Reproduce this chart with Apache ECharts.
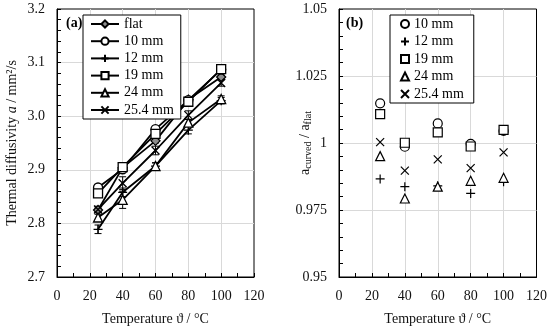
<!DOCTYPE html>
<html><head><meta charset="utf-8">
<script src="https://cdn.jsdelivr.net/npm/echarts@6/dist/echarts.min.js"></script>
<style>html,body{margin:0;padding:0;background:#fff}#c{width:550px;height:331px}</style>
</head><body><div id="c"></div>
<script>
// ---- data ----
const temps = [25, 40, 60, 80, 100];
const xTicks = [0, 20, 40, 60, 80, 100, 120];
const leftNames = ['flat', '10 mm', '12 mm', '19 mm', '24 mm', '25.4 mm'];
const aFlat = [2.825, 2.904, 2.954, 3.031, 3.073];
const a10 = [2.867, 2.901, 2.976, 3.030, 3.087];
const a12 = [2.789, 2.858, 2.907, 2.974, 3.029];
const a19 = [2.856, 2.905, 2.967, 3.027, 3.088];
const a24 = [2.811, 2.844, 2.907, 2.988, 3.032];
const a254 = [2.826, 2.875, 2.936, 3.002, 3.062];
const eFlat = [0.004, 0.004, 0.004, 0.004, 0.004];
const e10 = [0.005, 0.004, 0.005, 0.004, 0.004];
const e12 = [0.008, 0.008, 0.006, 0.007, 0.006];
const e19 = [0.006, 0.004, 0.005, 0.004, 0.004];
const e24 = [0.006, 0.016, 0.006, 0.006, 0.006];
const e254 = [0.006, 0.012, 0.008, 0.008, 0.006];
const rightNames = ['10 mm', '12 mm', '19 mm', '24 mm', '25.4 mm'];
const r10 = [1.0148, 0.9986, 1.0073, 0.9997, 1.0045];
const r12 = [0.9866, 0.9837, 0.9840, 0.9812, 0.9855];
const r19 = [1.0108, 1.0001, 1.0040, 0.9987, 1.0049];
const r24 = [0.9951, 0.9793, 0.9837, 0.9859, 0.9870];
const r254 = [1.0003, 0.9897, 0.9939, 0.9906, 0.9965];

// ---- styling ----
const FF = '"Liberation Serif", "DejaVu Serif", serif';
const PLUS = 'path://M0,5L10,5M5,0L5,10';
const CROSS = 'path://M0,0L10,10M10,0L0,10';
const leftSym = [
  {symbol: 'diamond', size: 9, fill: '#8c8c8c'},
  {symbol: 'circle', size: 9, fill: '#fff'},
  {symbol: PLUS, size: 9, fill: 'none'},
  {symbol: 'rect', size: 9, fill: '#fff'},
  {symbol: 'triangle', size: 9, fill: '#fff'},
  {symbol: CROSS, size: 8, fill: 'none'}
];
const rightSym = leftSym.slice(1);
const leftVals = [aFlat, a10, a12, a19, a24, a254];
const leftErr = [eFlat, e10, e12, e19, e24, e254];
const rightVals = [r10, r12, r19, r24, r254];

function xAxis(gi) {
  return {
    type: 'value', gridIndex: gi, min: 0, max: 120, interval: 20,
    name: 'Temperature ϑ / °C', nameLocation: 'middle', nameGap: 35, nameMoveOverlap: false,
    nameTextStyle: {fontFamily: FF, fontSize: 14, color: '#111'},
    axisLine: {show: true, onZero: false, lineStyle: {color: '#000', width: 1}},
    axisTick: {show: true, inside: true, length: 4, lineStyle: {color: '#000'}},
    minorTick: {show: true, splitNumber: 2, length: 4, lineStyle: {color: '#000'}},
    axisLabel: {fontFamily: FF, fontSize: 14, color: '#111', margin: 12,
      formatter: v => xTicks.includes(v) ? String(v) : ''},
    splitLine: {show: true, showMinLine: false, showMaxLine: false, lineStyle: {color: '#d9d9d9', width: 1}}
  };
}

const series = [];
leftNames.forEach((n, i) => {
  series.push({
    type: 'custom', xAxisIndex: 0, yAxisIndex: 0, z: 3, silent: true,
    data: temps.map((t, k) => [t, leftVals[i][k], leftErr[i][k]]),
    renderItem: (params, api) => {
      const x = api.value(0), y = api.value(1), e = api.value(2);
      const p1 = api.coord([x, y + e]), p2 = api.coord([x, y - e]);
      const st = {stroke: '#000', lineWidth: 1};
      return {type: 'group', children: [
        {type: 'line', shape: {x1: p1[0], y1: p1[1], x2: p2[0], y2: p2[1]}, style: st},
        {type: 'line', shape: {x1: p1[0] - 3.5, y1: p1[1], x2: p1[0] + 3.5, y2: p1[1]}, style: st},
        {type: 'line', shape: {x1: p2[0] - 3.5, y1: p2[1], x2: p2[0] + 3.5, y2: p2[1]}, style: st}
      ]};
    }
  });
});
leftNames.forEach((n, i) => {
  const s = leftSym[i];
  series.push({
    name: n, type: 'line', xAxisIndex: 0, yAxisIndex: 0, z: 4,
    data: temps.map((t, k) => [t, leftVals[i][k]]),
    symbol: s.symbol, symbolSize: s.size, showAllSymbol: true,
    lineStyle: {color: '#000', width: 1.8},
    itemStyle: {color: s.fill === 'none' ? 'rgba(0,0,0,0)' : s.fill, borderColor: '#000', borderWidth: 1.3},
    emphasis: {disabled: true}, animation: false
  });
});
rightNames.forEach((n, i) => {
  const s = rightSym[i];
  series.push({
    name: 'b:' + n, type: 'scatter', xAxisIndex: 1, yAxisIndex: 1, z: 4,
    data: temps.map((t, k) => [t, rightVals[i][k]]),
    symbol: s.symbol, symbolSize: s.size,
    itemStyle: {color: s.fill === 'none' ? 'rgba(0,0,0,0)' : '#fff', borderColor: '#000', borderWidth: 1.2, opacity: 1},
    emphasis: {disabled: true}, animation: false
  });
});

const legendText = {fontFamily: FF, fontSize: 14, color: '#000', lineHeight: 14};
const option = {
  animation: false,
  backgroundColor: '#fff',
  grid: [
    {left: 57, top: 9, width: 197, height: 268, show: true, borderColor: '#000', borderWidth: 1, backgroundColor: 'transparent'},
    {left: 339, top: 9, width: 198, height: 268, show: true, borderColor: '#000', borderWidth: 1, backgroundColor: 'transparent'}
  ],
  xAxis: [xAxis(0), xAxis(1)],
  yAxis: [
    {type: 'value', gridIndex: 0, min: 2.7, max: 3.2, interval: 0.1,
      name: 'Thermal diffusivity {i|a} / mm²/s', nameLocation: 'middle', nameGap: 38,
      nameTextStyle: {fontFamily: FF, fontSize: 14, color: '#111', rich: {i: {fontFamily: FF, fontSize: 14, fontStyle: 'italic', color: '#111'}}},
      axisLine: {show: true, onZero: false, lineStyle: {color: '#000', width: 1}},
      axisTick: {show: true, inside: true, length: 4, lineStyle: {color: '#000'}},
      minorTick: {show: true, splitNumber: 5, length: 4, lineStyle: {color: '#000'}},
      axisLabel: {fontFamily: FF, fontSize: 14, color: '#111', margin: 12, formatter: v => v.toFixed(1)},
      splitLine: {show: true, showMinLine: false, showMaxLine: false, lineStyle: {color: '#d9d9d9', width: 1}}
    },
    {type: 'value', gridIndex: 1, min: 0.95, max: 1.05, interval: 0.025,
      name: 'a{s|curved} / a{s|flat}', nameLocation: 'middle', nameGap: 26, nameMoveOverlap: false,
      nameTextStyle: {fontFamily: FF, fontSize: 14, color: '#111', rich: {s: {fontFamily: FF, fontSize: 10, color: '#111', verticalAlign: 'bottom', padding: [6, 0, 0, 0]}}},
      axisLine: {show: true, onZero: false, lineStyle: {color: '#000', width: 1}},
      axisTick: {show: true, inside: true, length: 4, lineStyle: {color: '#000'}},
      minorTick: {show: true, splitNumber: 5, length: 4, lineStyle: {color: '#000'}},
      axisLabel: {fontFamily: FF, fontSize: 14, color: '#111', margin: 12, formatter: v => String(parseFloat(v.toFixed(3)))},
      splitLine: {show: true, showMinLine: false, showMaxLine: false, lineStyle: {color: '#d9d9d9', width: 1}}
    }
  ],
  legend: [
    {data: leftNames, orient: 'vertical', left: 83, top: 15, itemWidth: 28, itemHeight: 9, itemGap: 3.2,
      padding: [2, 7, 2, 7], borderColor: '#000', borderWidth: 1, backgroundColor: '#fff',
      textStyle: legendText, selectedMode: false, z: 10},
    {data: rightNames.map(n => 'b:' + n), orient: 'vertical', left: 390, top: 15, itemWidth: 8, itemHeight: 8, itemGap: 3.5,
      padding: [2, 10, 2, 10], borderColor: '#000', borderWidth: 1, backgroundColor: '#fff',
      formatter: n => n.slice(2), textStyle: legendText, selectedMode: false, z: 10}
  ],
  graphic: [
    {type: 'text', left: 66, top: 16, z: 20, style: {text: '(a)', font: 'bold 14px ' + FF, fill: '#000'}},
    {type: 'text', left: 346, top: 16, z: 20, style: {text: '(b)', font: 'bold 14px ' + FF, fill: '#000'}}
  ],
  series: series
};
const chart = echarts.init(document.getElementById('c'), null, {renderer: 'canvas'});
chart.setOption(option);
</script></body></html>
